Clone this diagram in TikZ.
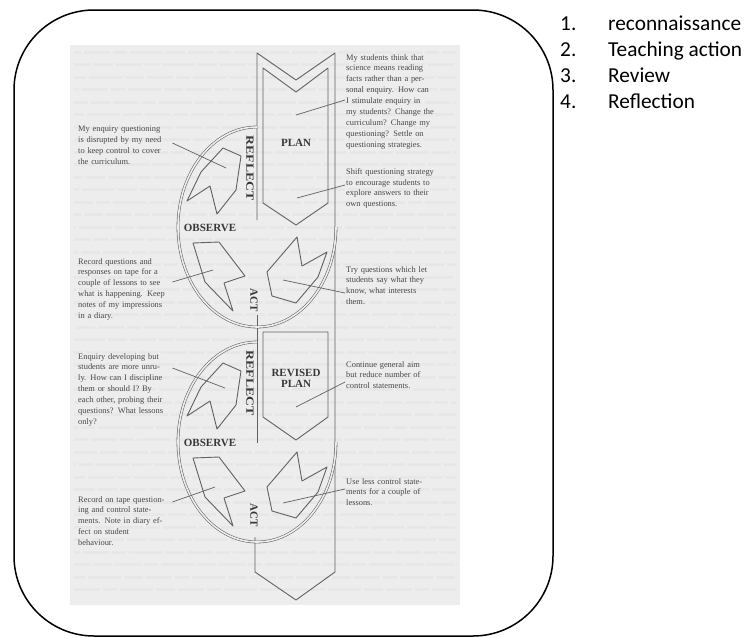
\documentclass[tikz,border=0pt]{standalone}
\usepackage{fontspec}
\setmainfont{Liberation Serif}
\newfontfamily\listfont{Carlito}
\usetikzlibrary{calc}

% one justified line of a note
\newcommand\jl[1]{\makebox[\linewidth][s]{#1}}

\tikzset{
  scanline/.style={draw=black!62, line width=0.9pt, line join=round},
  ringline/.style={draw=black!62, line width=0.55pt, double=black!7, double distance=1.6pt},
  stagelbl/.style={font=\bfseries\fontsize{11}{11}\selectfont, text=black!78, inner sep=0.5pt},
  notetxt/.style={font=\fontsize{8.4}{10.9}\selectfont, text=black!72, text width=92pt, align=left, inner sep=0pt},
  ghost/.style={draw=black!9.5, line width=3pt, dash pattern=on 26pt off 3pt on 14pt off 3pt on 33pt off 3pt on 19pt off 3pt},
  leader/.style={draw=black!62, line width=0.7pt},
  listitem/.style={font=\listfont\fontsize{21.3}{21.3}\selectfont, anchor=base west, inner sep=0pt}
}

\begin{document}
\begin{tikzpicture}[x=1pt, y=-1pt]
  \useasboundingbox (0,0) rectangle (746,637);
  % frame and scanned page
  \draw[line width=1.5pt, rounded corners=80pt] (14,10) rectangle (553,636);
  \fill[black!7] (70,45) rectangle (460,605);
  \foreach \r in {52,64.5,...,600} {
    \pgfmathsetmacro\ph{mod(\r*13,97)}
    \draw[ghost, dash phase=\ph pt] (74,\r) -- (456,\r);
  }

  % band with plan arrows
  \draw[scanline] (257,220) -- (257,53) -- (296,80) -- (335,53) -- (335,572) -- (296,600) -- (255,572) -- (255,537);
  \draw[scanline] (257,315) -- (257,443);
  \draw[scanline] (263,68) -- (296,92) -- (328,68) -- (328,203) -- (296,225) -- (263,203) -- cycle;
  \draw[scanline] (263,332) -- (328,332) -- (328,417) -- (296,440) -- (263,417) -- cycle;
  \node[stagelbl] (plan) at (296,143) {PLAN};
  \node[stagelbl, align=center] (revplan) at (296,378) {REVISED\\PLAN};

  % two cycles
  \foreach \dy/\c in {0/a, 215/b} {
    \begin{scope}[shift={(0,\dy)}]
      \draw[ringline] (257,127) arc[start angle=-90, end angle=-360, x radius=79, y radius=100];
      \draw[scanline] (223,148) -- (241,156) -- (236,190) -- (217,214) -- (210,186) -- (187,201) -- (201,172) -- cycle;
      \draw[scanline] (193,243) -- (219,242) -- (245,276) -- (224,283) -- (233,311) -- (205,282) -- cycle;
      \draw[scanline] (297,237) -- (302,266) -- (327,252) -- (318,277) -- (296,303) -- (272,296) -- (267,272) -- cycle;
      \node[stagelbl, rotate=-90] (reflect\c) at (250,168) {\scalebox{1.25}[1]{REFLECT}};
      \node[stagelbl] (observe\c) at (210,228) {OBSERVE};
      \node[stagelbl, rotate=-90] (act\c) at (254,300) {ACT};
    \end{scope}
  }

  % notes beside the cycles
  \node[notetxt, anchor=north west] (noteA) at (78,126) {\jl{My enquiry questioning}\\\jl{is disrupted by my need}\\\jl{to keep control to cover}\\the curriculum.};
  \node[notetxt, anchor=north west] (noteB) at (78,258) {\jl{Record questions and}\\\jl{responses on tape for a}\\\jl{couple of lessons to see}\\\jl{what is happening. Keep}\\\jl{notes of my impressions}\\in a diary.};
  \node[notetxt, anchor=north west] (noteC) at (78,353) {\jl{Enquiry developing but}\\\jl{students are more unru-}\\\jl{ly. How can I discipline}\\\jl{them or should I? By}\\\jl{each other, probing their}\\\jl{questions? What lessons}\\only?};
  \node[notetxt, anchor=north west] (noteD) at (78,496) {\jl{Record on tape question-}\\\jl{ing and control state-}\\\jl{ments. Note in diary ef-}\\\jl{fect on student}\\behaviour.};
  \node[notetxt, anchor=north west, text width=95pt] (noteE) at (346,54) {\jl{My students think that}\\\jl{science means reading}\\\jl{facts rather than a per-}\\\jl{sonal enquiry. How can}\\\jl{I stimulate enquiry in}\\\jl{my students? Change the}\\\jl{curriculum? Change my}\\\jl{questioning? Settle on}\\questioning strategies.};
  \node[notetxt, anchor=north west, text width=95pt] (noteF) at (346,168) {\jl{Shift questioning strategy}\\\jl{to encourage students to}\\\jl{explore answers to their}\\own questions.};
  \node[notetxt, anchor=north west, text width=95pt] (noteG) at (346,266) {\jl{Try questions which let}\\\jl{students say what they}\\\jl{know, what interests}\\them.};
  \node[notetxt, anchor=north west, text width=95pt] (noteH) at (346,361) {\jl{Continue general aim}\\\jl{but reduce number of}\\control statements.};
  \node[notetxt, anchor=north west, text width=95pt] (noteI) at (346,478) {\jl{Use less control state-}\\\jl{ments for a couple of}\\lessons.};

  % leader lines
  \coordinate (tipA) at (226,168);
  \coordinate (tipB) at (213,270);
  \coordinate (tipC) at (225,388);
  \coordinate (tipD) at (215,487);
  \coordinate (tipE) at (296,115);
  \coordinate (tipF) at (297,198);
  \coordinate (tipG) at (283,280);
  \coordinate (tipH) at (296,407);
  \coordinate (tipI) at (283,503);
  \draw[leader] ([shift={(2pt,-17pt)}]noteA.north east) -- (tipA);
  \draw[leader] ([shift={(2pt,-24pt)}]noteB.north east) -- (tipB);
  \draw[leader] ([shift={(2pt,-15pt)}]noteC.north east) -- (tipC);
  \draw[leader] ([shift={(2pt,-6pt)}]noteD.north east) -- (tipD);
  \draw[leader] ([shift={(-1pt,-46pt)}]noteE.north west) -- (tipE);
  \draw[leader] ([shift={(-1pt,-17pt)}]noteF.north west) -- (tipF);
  \draw[leader] ([shift={(-1pt,-27pt)}]noteG.north west) -- (tipG);
  \draw[leader] ([shift={(-1pt,-21pt)}]noteH.north west) -- (tipH);
  \draw[leader] ([shift={(-1pt,-11pt)}]noteI.north west) -- (tipI);

  % list on the right
  \foreach \n/\t [count=\k from 0] in {1/reconnaissance, 2/Teaching action, 3/Review, 4/Reflection} {
    \node[listitem] (num\n) at (560, 30+26.3*\k) {\n.};
    \node[listitem] (item\n) at (608, 30+26.3*\k) {\t};
  }
\end{tikzpicture}
\end{document}
